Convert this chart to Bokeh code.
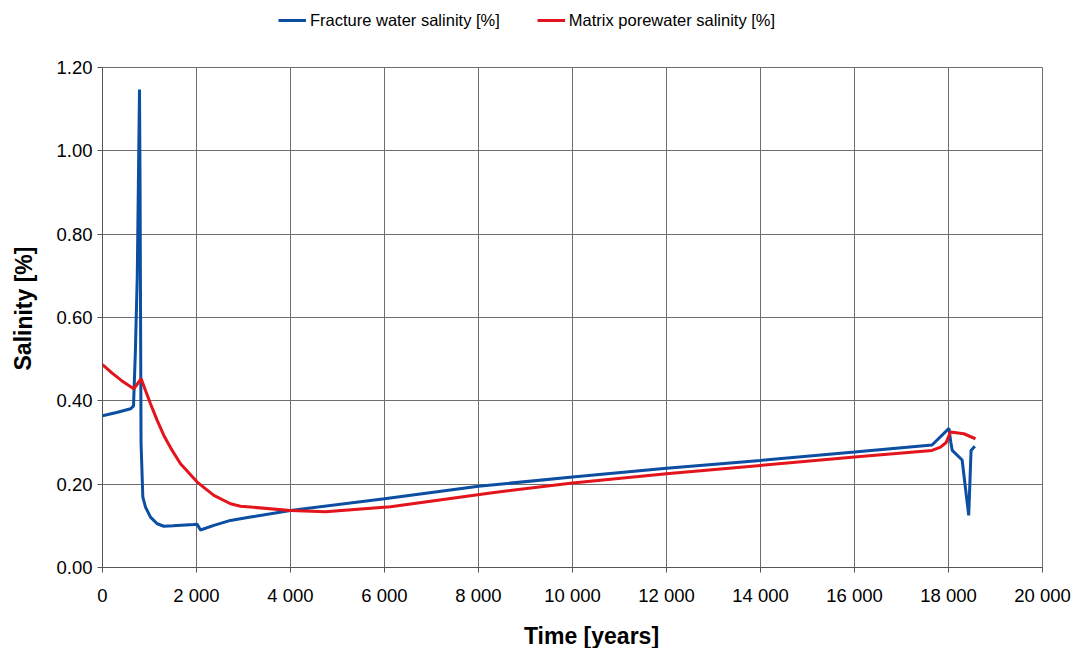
from bokeh.plotting import figure
from bokeh.layouts import column
from bokeh.models import (Range1d, FixedTicker, NumeralTickFormatter, Legend,
                          LegendItem, Label)
from bokeh.embed import file_html
from bokeh.resources import INLINE

# Fracture water salinity over time
frac_time = [0, 300, 600, 660, 700, 740, 787, 800, 820, 858, 915, 1021, 1163,
             1305, 1500, 1943, 2014, 2085, 2369, 2723, 3149, 4000, 6000, 8000,
             10000, 12000, 14000, 16000, 17650, 18010, 18050, 18080, 18290,
             18430, 18480, 18560]
frac_salinity = [0.364, 0.372, 0.381, 0.388, 0.52, 0.70, 1.147, 0.90, 0.30,
                 0.169, 0.145, 0.121, 0.105, 0.099, 0.100, 0.103, 0.104, 0.090,
                 0.101, 0.113, 0.121, 0.137, 0.165, 0.195, 0.217, 0.238, 0.257,
                 0.277, 0.294, 0.334, 0.300, 0.281, 0.258, 0.125, 0.281, 0.291]

# Matrix porewater salinity over time
matrix_time = [0, 200, 400, 600, 667, 823, 915, 1021, 1163, 1305, 1482, 1660,
               2014, 2369, 2723, 2936, 3149, 4000, 4745, 6128, 8255, 10000,
               12000, 14000, 16000, 17650, 17830, 17950, 18040, 18326, 18574]
matrix_salinity = [0.487, 0.467, 0.449, 0.434, 0.429, 0.453, 0.425, 0.393,
                   0.353, 0.317, 0.281, 0.249, 0.205, 0.173, 0.153, 0.147,
                   0.145, 0.137, 0.134, 0.146, 0.179, 0.203, 0.225, 0.245,
                   0.265, 0.281, 0.289, 0.300, 0.325, 0.321, 0.309]

x_ticks = [0, 2000, 4000, 6000, 8000, 10000, 12000, 14000, 16000, 18000, 20000]
x_tick_labels = ["0", "2 000", "4 000", "6 000", "8 000", "10 000", "12 000",
                 "14 000", "16 000", "18 000", "20 000"]
y_ticks = [0.0, 0.2, 0.4, 0.6, 0.8, 1.0, 1.2]

FONT = "Liberation Sans"
BLUE = "#0b4ea2"
RED = "#e3141c"
GRID = "#6e6e6e"
STRIP_H = 40

# ---- legend strip across the top -------------------------------------------
# The strip's y range lies far above the data, so its two series stay hidden
# and only serve as legend keys.
strip = figure(width=1074, height=STRIP_H, output_backend="svg",
               toolbar_location=None, x_axis_type=None, y_axis_type=None,
               x_range=Range1d(0, 20000), y_range=Range1d(100, 140),
               min_border=0)
strip.outline_line_color = None
strip.border_fill_color = "white"
strip.background_fill_color = "white"
key_blue = strip.line(frac_time, frac_salinity, line_color=BLUE, line_width=3)
key_red = strip.line(matrix_time, matrix_salinity, line_color=RED, line_width=3)
legend = Legend(items=[LegendItem(label="Fracture water salinity [%]", renderers=[key_blue]),
                       LegendItem(label="Matrix porewater salinity [%]", renderers=[key_red])],
                orientation="horizontal", location=(176, 10),
                padding=0, margin=0, spacing=37, label_standoff=4,
                glyph_width=28, glyph_height=20, label_height=20,
                label_text_font=FONT, label_text_font_size="16.5px",
                label_text_color="black", border_line_color=None,
                background_fill_alpha=0)
strip.add_layout(legend, "center")

# ---- main chart -------------------------------------------------------------
p = figure(width=1074, height=648 - STRIP_H, output_backend="svg",
           toolbar_location=None,
           x_range=Range1d(0, 20000), y_range=Range1d(0, 1.2),
           min_border_left=102, min_border_right=32, min_border_top=67 - STRIP_H,
           min_border_bottom=81)

p.outline_line_color = GRID
p.outline_line_width = 1
p.background_fill_color = "white"
p.border_fill_color = "white"

for grid in (p.xgrid, p.ygrid):
    grid.grid_line_color = GRID
    grid.grid_line_width = 1

p.xaxis.ticker = FixedTicker(ticks=x_ticks)
p.xaxis.major_label_overrides = {t: l for t, l in zip(x_ticks, x_tick_labels)}
p.yaxis.ticker = FixedTicker(ticks=y_ticks)
p.yaxis.formatter = NumeralTickFormatter(format="0.00")
p.xgrid.ticker = FixedTicker(ticks=x_ticks)
p.ygrid.ticker = FixedTicker(ticks=y_ticks)

for ax in (p.xaxis, p.yaxis):
    ax.major_label_text_font = FONT
    ax.major_label_text_font_size = "18.5px"
    ax.major_label_text_color = "black"
    ax.axis_line_color = "#555555"
    ax.major_tick_line_color = "#555555"
    ax.major_tick_in = 0
    ax.major_tick_out = 5
    ax.minor_tick_line_color = None
p.xaxis.major_label_standoff = 12
p.yaxis.major_label_standoff = 5

p.line(frac_time, frac_salinity, line_color=BLUE, line_width=3)
p.line(matrix_time, matrix_salinity, line_color=RED, line_width=3)

# Axis titles, placed in canvas pixels of the chart
x_title = Label(text="Time [years]", x=591, y=635 - STRIP_H, x_units="canvas",
                y_units="canvas", text_align="center", text_baseline="middle",
                text_font=FONT, text_font_size="23px", text_font_style="bold",
                text_color="black")
p.add_layout(x_title, "below")
y_title = Label(text="Salinity [%]", x=23, y=308 - STRIP_H, x_units="canvas",
                y_units="canvas", angle=1.5707963, text_align="center",
                text_baseline="middle", text_font=FONT, text_font_size="23px",
                text_font_style="bold", text_color="black")
p.add_layout(y_title, "left")

layout = column(strip, p, spacing=0)
open("out.html", "w").write(file_html(layout, INLINE))
